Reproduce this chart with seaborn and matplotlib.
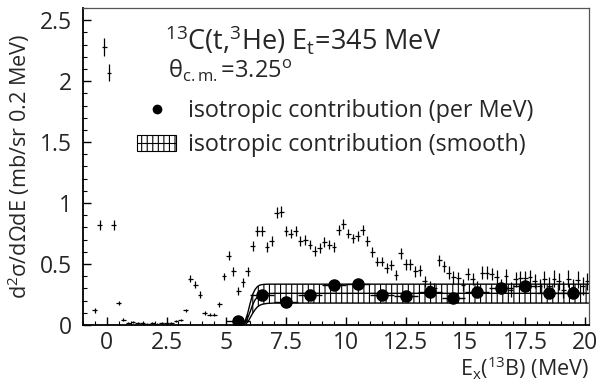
import matplotlib
matplotlib.use("Agg")
import matplotlib.pyplot as plt
import pandas as pd
import seaborn as sns
from matplotlib.lines import Line2D
from matplotlib.patches import Patch
from matplotlib.ticker import MultipleLocator, FormatStrFormatter

# measured spectrum, 0.2 MeV bins starting at -0.5 MeV
n_bins = 104
ex_bins = [round(-0.5 + 0.2 * i, 1) for i in range(n_bins)]
cross_y = [
    0.12, 0.82, 2.28, 2.07, 0.82, 0.18, 0.045,
    0.02, 0.025, 0.02, 0.015, 0.01, 0.015, 0.01, 0.015, 0.02, 0.02, 0.03,
    0.04, 0.12, 0.38, 0.33, 0.25, 0.10, 0.085, 0.085, 0.17, 0.40, 0.57,
    0.44, 0.28, 0.35, 0.44, 0.65, 0.77, 0.77, 0.64, 0.69, 0.92, 0.93,
    0.77, 0.75, 0.77, 0.69, 0.70, 0.66, 0.61, 0.63, 0.68, 0.66, 0.64, 0.78,
    0.83, 0.75, 0.71, 0.73, 0.78, 0.69, 0.60, 0.52, 0.52, 0.47, 0.49, 0.41,
    0.59, 0.50, 0.50, 0.44, 0.45, 0.36, 0.32, 0.30, 0.53, 0.48,
    0.43, 0.39, 0.385, 0.33, 0.42, 0.38, 0.315, 0.43, 0.43, 0.42,
    0.39, 0.315, 0.40, 0.29, 0.375, 0.385, 0.385, 0.39, 0.36, 0.32,
    0.375, 0.32, 0.38, 0.36, 0.29, 0.38, 0.31, 0.37, 0.32, 0.36,
]
cross_err = (
    [0.02, 0.04, 0.07, 0.07, 0.04, 0.02, 0.01]
    + [0.008] * 11
    + [0.01, 0.015, 0.03, 0.03, 0.025, 0.015, 0.015, 0.015, 0.02, 0.03, 0.035,
       0.035, 0.03, 0.035, 0.035, 0.04, 0.04, 0.04, 0.04, 0.04, 0.045, 0.045]
    + [0.04] * 24
    + [0.045] * 10 + [0.05] * 10 + [0.06] * 10 + [0.07] * 10
)

# isotropic contribution, 1 MeV bins
iso_x = [5.5, 6.5, 7.5, 8.5, 9.5, 10.5, 11.5, 12.5, 13.5, 14.5, 15.5, 16.5, 17.5, 18.5, 19.5]
iso_y = [0.035, 0.25, 0.19, 0.25, 0.33, 0.34, 0.25, 0.24, 0.27, 0.22, 0.27, 0.30, 0.32, 0.26, 0.26]
iso_err = [0.01, 0.02, 0.02, 0.02, 0.04, 0.035, 0.02, 0.02, 0.03, 0.02, 0.03, 0.03, 0.04, 0.03, 0.03]

# smooth isotropic band
band_x = [5.55, 5.7, 5.8, 5.9, 6.0, 6.1, 6.2, 6.3, 6.4, 6.5, 6.7, 7.0, 20.15]
band_hi = [0.0, 0.01, 0.04, 0.10, 0.18, 0.25, 0.29, 0.315, 0.327, 0.332, 0.335, 0.335, 0.335]
band_mid = [0.0, 0.005, 0.02, 0.06, 0.11, 0.165, 0.205, 0.23, 0.245, 0.252, 0.258, 0.26, 0.26]
band_lo = [0.0, 0.0, 0.005, 0.025, 0.06, 0.095, 0.125, 0.148, 0.162, 0.170, 0.177, 0.18, 0.18]

sns.set_style("ticks")
plt.rcParams["font.family"] = ["Open Sans", "DejaVu Sans"]
plt.rcParams["mathtext.fontset"] = "custom"
plt.rcParams["mathtext.rm"] = "Open Sans"
plt.rcParams["mathtext.it"] = "Open Sans"
plt.rcParams["mathtext.default"] = "regular"
plt.rcParams["hatch.linewidth"] = 0.8

FS = 16.5

fig = plt.figure(figsize=(6, 3.89), dpi=100)
ax = fig.add_axes([0.138, 0.1645, 0.843, 0.815])

spec = pd.DataFrame({"ex": ex_bins, "y": cross_y, "err": cross_err})
ax.errorbar(spec["ex"], spec["y"], xerr=0.1, yerr=spec["err"], fmt="none",
            ecolor="black", elinewidth=0.9, capsize=0)

ax.fill_between(band_x, band_lo, band_hi, facecolor="none", edgecolor="black",
                hatch="|||", linewidth=0)
band = pd.DataFrame({"x": band_x, "lo": band_lo, "mid": band_mid, "hi": band_hi})
for col in ["lo", "mid", "hi"]:
    sns.lineplot(data=band, x="x", y=col, ax=ax, color="black", linewidth=1.0,
                 estimator=None, sort=False)

ax.errorbar(iso_x, iso_y, xerr=0.5, yerr=iso_err, fmt="o", color="black",
            markersize=8, elinewidth=1.0, capsize=0)

ax.set_xlim(-1.0, 20.15)
ax.set_ylim(0, 2.6)
ax.xaxis.set_major_locator(MultipleLocator(2.5))
ax.xaxis.set_minor_locator(MultipleLocator(0.5))
ax.yaxis.set_major_locator(MultipleLocator(0.5))
ax.yaxis.set_minor_locator(MultipleLocator(0.1))
ax.xaxis.set_major_formatter(FormatStrFormatter("%g"))
ax.yaxis.set_major_formatter(FormatStrFormatter("%g"))
ax.tick_params(which="both", direction="in", labelsize=FS, color="black",
               top=False, right=False)
ax.tick_params(which="major", length=6, width=1.0)
ax.tick_params(which="minor", length=3, width=0.8)
ax.tick_params(axis="x", pad=4)
ax.tick_params(axis="y", pad=8)
for side in ["left", "bottom"]:
    ax.spines[side].set_linewidth(1.3)
    ax.spines[side].set_color("black")
for side in ["top", "right"]:
    ax.spines[side].set_linewidth(0.9)
    ax.spines[side].set_color("#555555")

ax.set_ylabel("d$^{2}$σ/dΩdE (mb/sr 0.2 MeV)", fontsize=15.6)
ax.yaxis.set_label_coords(-0.1, 0.5)
ax.set_xlabel("E$_{x}$($^{13}$B) (MeV)", fontsize=15.5)
ax.xaxis.label.set_ha("right")
ax.xaxis.set_label_coords(1.0, -0.095)

ax.text(0.162, 0.9, "$^{13}$C(t,$^{3}$He) E$_{t}$=345 MeV", transform=ax.transAxes,
        fontsize=19.5, va="center", ha="left")
ax.text(0.168, 0.8, "θ$_{c.m.}$=3.25$^{o}$", transform=ax.transAxes,
        fontsize=17, va="center", ha="left")

handles = [
    Line2D([], [], marker="o", color="black", linestyle="none", markersize=6),
    (Patch(facecolor="white", edgecolor="black", hatch="|||", linewidth=0.8),
     Line2D([], [], color="black", linewidth=0.8)),
]
labels = ["isotropic contribution (per MeV)", "isotropic contribution (smooth)"]
ax.legend(handles, labels, loc="upper left", bbox_to_anchor=(0.108, 0.712),
          frameon=False, fontsize=16.8, handlelength=1.65, handletextpad=0.5,
          labelspacing=0.42, borderpad=0, borderaxespad=0)

fig.savefig("out.png", dpi=100)
